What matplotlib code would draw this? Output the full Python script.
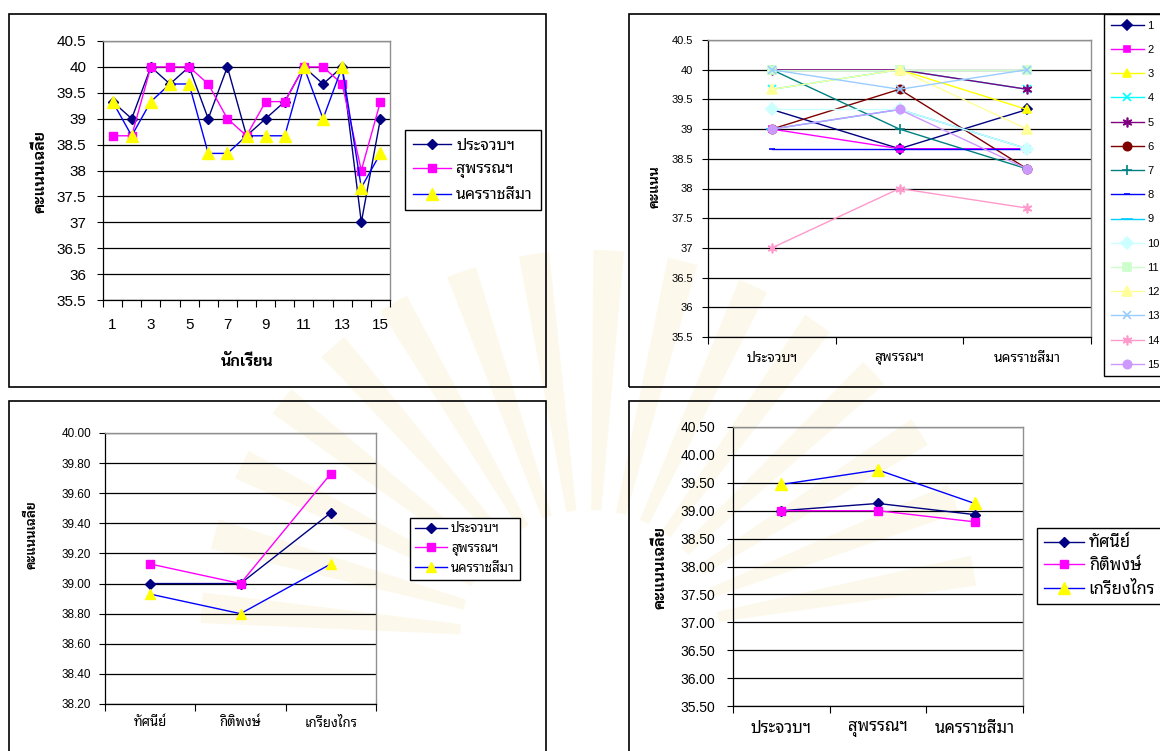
import numpy as np
import matplotlib
matplotlib.use('Agg')
import matplotlib.pyplot as plt
from matplotlib import font_manager
from matplotlib.patches import Rectangle, Wedge
from matplotlib.transforms import IdentityTransform
from matplotlib.ticker import FormatStrFormatter, FuncFormatter

# ---- data ----
students = list(range(1, 15 + 1))
provinces = ['ประจวบฯ', 'สุพรรณฯ', 'นครราชสีมา']
teachers = ['ทัศนีย์', 'กิติพงษ์', 'เกรียงไกร']

# mean score of each student, by province
prachuap = [39.33, 39.00, 40.00, 39.67, 40.00, 39.00, 40.00, 38.67, 39.00, 39.33, 40.00, 39.67, 40.00, 37.00, 39.00]
suphan = [38.67, 38.67, 40.00, 40.00, 40.00, 39.67, 39.00, 38.67, 39.33, 39.33, 40.00, 40.00, 39.67, 38.00, 39.33]
korat = [39.33, 38.67, 39.33, 39.67, 39.67, 38.33, 38.33, 38.67, 38.67, 38.67, 40.00, 39.00, 40.00, 37.67, 38.33]

# mean score by teacher (x) for each province (series)
prachuap_t = [39.00, 39.00, 39.47]
suphan_t = [39.13, 39.00, 39.73]
korat_t = [38.93, 38.80, 39.13]

# ---- fonts ----
ttf = font_manager.fontManager.ttflist
avail = set(f.name for f in ttf)


def has_bold(name):
    for f in ttf:
        if f.name == name:
            try:
                if int(f.weight) >= 700:
                    return True
            except (TypeError, ValueError):
                if 'bold' in str(f.weight):
                    return True
    return False


cands = ['Noto Sans Thai Looped', 'Sarabun', 'Tahoma', 'Loma', 'Noto Sans Thai', 'Anuphan', 'Bai Jamjuree']
thai = next((n for n in cands if n in avail), 'DejaVu Sans')
thai_b = next((n for n in cands if n in avail and has_bold(n)), thai)
FAM = ['Liberation Sans', thai, 'DejaVu Sans']
FAM_B = ['Liberation Sans', thai_b, 'DejaVu Sans']
plt.rcParams['font.family'] = FAM

W, H = 1160, 751
fig = plt.figure(figsize=(W / 100, H / 100), dpi=100)


def px(x, y):
    return x / W, 1 - y / H


def box(x0, y0, x1, y1):
    return [x0 / W, 1 - y1 / H, (x1 - x0) / W, (y1 - y0) / H]


# faint watermark rays behind the charts
for a in np.arange(8, 175, 11):
    fig.patches.append(Wedge((590, H - 640), 390, a, a + 4.5, width=260,
                             transform=IdentityTransform(), color='#f3e2a0',
                             alpha=0.2, zorder=-5, lw=0))

# panel frames
for x0, y0, x1, y1 in [(9, 14, 546, 387), (629, 14, 1175, 387),
                       (9, 401, 546, 765), (629, 401, 1175, 765)]:
    fig.patches.append(Rectangle((x0 / W, 1 - y1 / H), (x1 - x0) / W, (y1 - y0) / H,
                                 transform=fig.transFigure, fill=False,
                                 edgecolor='black', lw=1.2, zorder=1))


def style(ax, n, ylo, yhi, step, yfs, xfs, fmt, lab_pos, labels, xpad, ypad):
    ax.set_facecolor('none')
    ax.set_xlim(-0.5, n - 0.5)
    ax.set_xticks(np.arange(-0.5, n, 1.0))
    ax.set_xticklabels([])
    ax.set_xticks(lab_pos, minor=True)
    ax.set_xticklabels(labels, minor=True, fontsize=xfs)
    ax.tick_params(axis='x', which='minor', length=0, pad=xpad)
    ax.tick_params(axis='x', which='major', length=5, width=0.8, direction='out')
    ax.set_ylim(ylo, yhi)
    ax.set_yticks(np.arange(ylo, yhi + step / 2, step))
    if fmt:
        ax.yaxis.set_major_formatter(FormatStrFormatter(fmt))
    else:
        ax.yaxis.set_major_formatter(FuncFormatter(lambda v, p: '%g' % round(v, 2)))
    ax.tick_params(axis='y', length=4, width=0.8, direction='out', labelsize=yfs, pad=ypad)
    ax.yaxis.grid(True, color='black', lw=0.9)
    ax.set_axisbelow(True)
    for s in ['top', 'right']:
        ax.spines[s].set_color('#909090')
        ax.spines[s].set_linewidth(1.0)
    for s in ['left', 'bottom']:
        ax.spines[s].set_color('black')
        ax.spines[s].set_linewidth(0.9)


def legend(ax, fs, x, y, loc, spacing, hl=2.4, bpad=0.4):
    lg = ax.legend(loc=loc, bbox_to_anchor=px(x, y), bbox_transform=fig.transFigure,
                   fancybox=False, frameon=True, framealpha=1, borderaxespad=0,
                   handlelength=hl, handletextpad=0.3, labelspacing=spacing,
                   borderpad=bpad, prop={'family': FAM, 'size': fs})
    lg.get_frame().set_edgecolor('black')
    lg.get_frame().set_linewidth(1.0)
    return lg


def ylab(x, y, s, fs):
    fig.text(*px(x, y), s, rotation=90, ha='center', va='center',
             fontsize=fs, fontweight='bold', family=FAM_B)


three = [
    dict(color='#000080', marker='D', mfc='#000080', mec='#000080'),
    dict(color='#FF00FF', marker='s', mfc='#FF00FF', mec='#FF00FF'),
    dict(color='#0000FF', marker='^', mfc='#FFFF00', mec='#FFFF00'),
]

# ---- top left: each student ----
ax1 = fig.add_axes(box(103, 41, 390, 300))
xs = np.arange(len(students))
for vals, name, st, ms in zip([prachuap, suphan, korat], provinces, three, [5.5, 6, 8]):
    ax1.plot(xs, vals, lw=1.0, ms=ms, label=name, **st)
style(ax1, len(students), 35.5, 40.5, 0.5, 11, 11, None, xs[::2],
      [str(s) for s in students[::2]], 13, 8)
legend(ax1, 11.5, 405, 170, 'center left', 0.55, bpad=0.5)
ylab(40, 172, 'คะแนนเฉลี่ย', 11.5)
fig.text(*px(247, 362), 'นักเรียน', ha='center', va='center',
         fontsize=11.5, fontweight='bold', family=FAM_B)

# ---- top right: each student across provinces ----
ax2 = fig.add_axes(box(708, 40, 1091, 337))
stud_colors = ['#000080', '#FF00FF', '#FFFF00', '#00FFFF', '#800080', '#800000',
               '#008080', '#0000FF', '#00CCFF', '#CCFFFF', '#CCFFCC', '#FFFF99',
               '#99CCFF', '#FF99CC', '#CC99FF']
stud_markers = ['D', 's', '^', 'x', (6, 2, 0), 'o', '+', '_', '_', 'D', 's', '^',
                'x', (6, 2, 0), 'o']
stud_ms = [5, 5, 6, 6, 7, 6, 7, 5, 8, 6, 6, 7, 6, 7, 6]
pos3 = np.arange(len(provinces))
for i, s in enumerate(students):
    vals = [prachuap[i], suphan[i], korat[i]]
    ax2.plot(pos3, vals, color=stud_colors[i], lw=1.0, marker=stud_markers[i],
             ms=stud_ms[i], mfc=stud_colors[i], mec=stud_colors[i], mew=1.2,
             label=str(s))
style(ax2, 3, 35.5, 40.5, 0.5, 8, 10, None, pos3, provinces, 10, 7)
legend(ax2, 8, 1104, 14, 'upper left', 1.28, hl=3.0, bpad=0.6)
ylab(655, 187, 'คะแนน', 10)

# ---- bottom left: teachers, series = province ----
ax3 = fig.add_axes(box(105, 433, 376, 704))
for vals, name, st, ms in zip([prachuap_t, suphan_t, korat_t], provinces, three, [5, 6, 7]):
    ax3.plot(pos3, vals, lw=1.0, ms=ms, label=name, **st)
style(ax3, 3, 38.2, 40.0, 0.2, 8.5, 9.5, '%.2f', pos3, teachers, 9, 6)
legend(ax3, 9.5, 410, 549, 'center left', 0.55)
ylab(32, 535, 'คะแนนเฉลี่ย', 9.5)

# ---- bottom right: provinces, series = teacher ----
ax4 = fig.add_axes(box(733, 427, 1023, 706))
by_teacher = np.array([prachuap_t, suphan_t, korat_t]).T
for vals, name, st, ms in zip(by_teacher, teachers, three, [5, 6, 8]):
    ax4.plot(pos3, vals, lw=1.0, ms=ms, label=name, **st)
style(ax4, 3, 35.5, 40.5, 0.5, 10, 12, '%.2f', pos3, provinces, 11, 9)
legend(ax4, 12, 1037, 566, 'center left', 0.45)
ylab(660, 568, 'คะแนนเฉลี่ย', 11.5)

fig.savefig('out.png', dpi=100)
